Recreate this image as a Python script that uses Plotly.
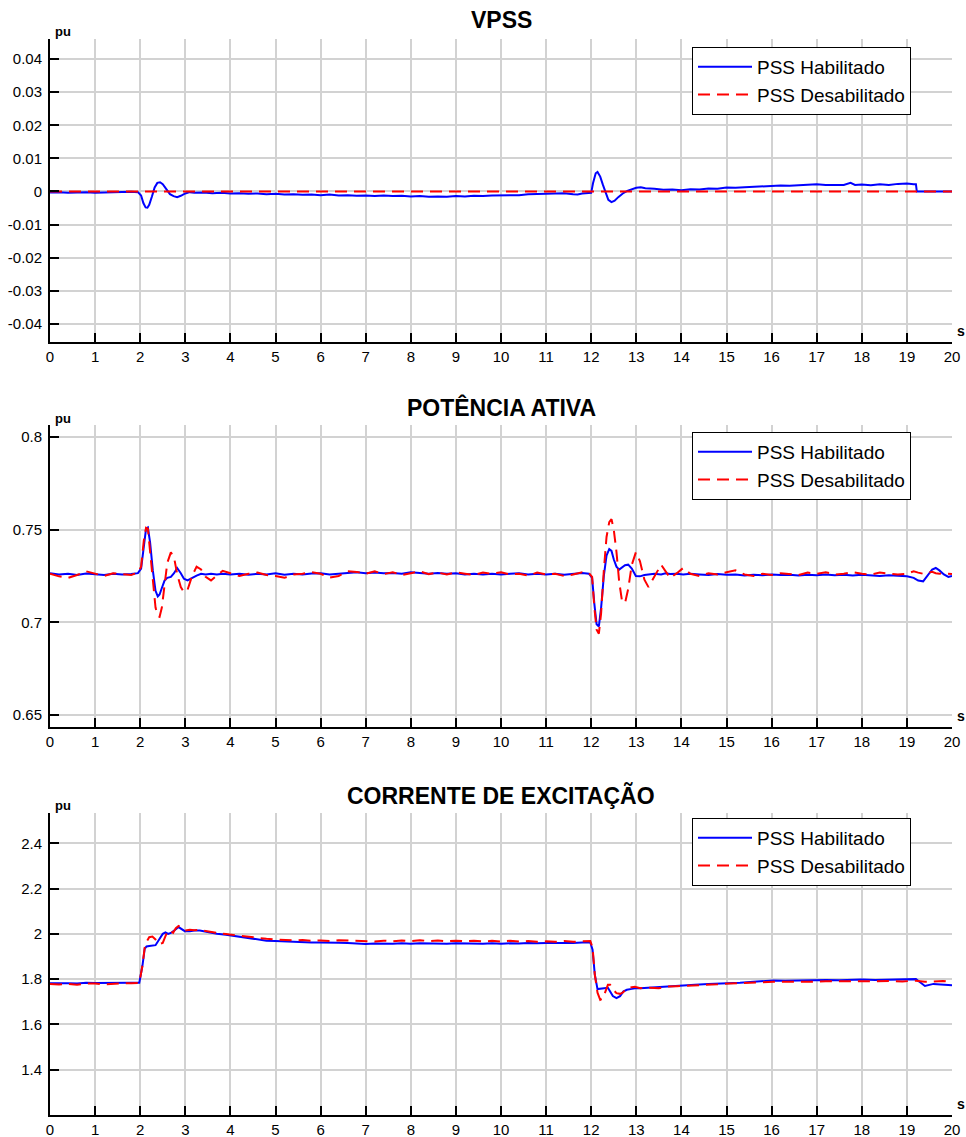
import plotly.graph_objects as go

# ---------------- DATA ----------------
X_TICKS = list(range(0, 21))

# Panel 1 : VPSS
T_VPSS_HAB = [0.0, 0.2, 0.4, 0.6, 0.8, 1.0, 1.2, 1.4, 1.6, 1.8, 1.95, 2.02, 2.07, 2.12, 2.16, 2.2,
              2.26, 2.32, 2.38, 2.44, 2.5, 2.58, 2.66, 2.74, 2.82, 2.9, 3.0, 3.1, 3.2, 3.4, 3.6, 3.8,
              4.0, 4.2, 4.4, 4.6, 4.8, 5.0, 5.2, 5.4, 5.6, 5.8, 6.0, 6.2, 6.4, 6.6, 6.8, 7.0, 7.2,
              7.4, 7.6, 7.8, 8.0, 8.2, 8.4, 8.6, 8.8, 9.0, 9.2, 9.4, 9.6, 9.8, 10.0, 10.2, 10.4,
              10.6, 10.8, 11.0, 11.2, 11.4, 11.6, 11.7, 11.8, 11.9, 12.0, 12.04, 12.1, 12.14, 12.2,
              12.26, 12.32, 12.38, 12.45, 12.52, 12.6, 12.7, 12.8, 12.9, 13.0, 13.1, 13.2, 13.4,
              13.6, 13.8, 14.0, 14.2, 14.4, 14.6, 14.8, 15.0, 15.2, 15.4, 15.6, 15.8, 16.0, 16.2,
              16.4, 16.6, 16.8, 17.0, 17.2, 17.4, 17.6, 17.75, 17.85, 18.0, 18.2, 18.4, 18.6, 18.8,
              19.0, 19.15, 19.2, 19.22, 19.4, 19.7, 20.0]
VPSS_HAB = [-0.0003, -0.0002, -0.0004, -0.0003, -0.0002, -0.0004, -0.0003, -0.0002, -0.0003, -0.0001,
            -0.0002, -0.0012, -0.0035, -0.0048, -0.0049, -0.0040, -0.0015, 0.0012, 0.0026, 0.0028,
            0.0022, 0.0005, -0.0008, -0.0014, -0.0017, -0.0013, -0.0006, -0.0002, -0.0004, -0.0003,
            -0.0005, -0.0004, -0.0006, -0.0005, -0.0007, -0.0006, -0.0008, -0.0007, -0.0009, -0.0008,
            -0.0010, -0.0009, -0.0011, -0.0009, -0.0012, -0.0011, -0.0013, -0.0012, -0.0014, -0.0012,
            -0.0014, -0.0013, -0.0015, -0.0014, -0.0016, -0.0015, -0.0016, -0.0014, -0.0015, -0.0013,
            -0.0014, -0.0012, -0.0012, -0.0010, -0.0011, -0.0008, -0.0007, -0.0005, -0.0004, -0.0005,
            -0.0008, -0.0009, -0.0006, -0.0004, -0.0004, 0.0025, 0.0055, 0.0059, 0.0045, 0.0020,
            -0.0005, -0.0025, -0.0032, -0.0028, -0.0017, -0.0006, 0.0002, 0.0007, 0.0011, 0.0013,
            0.0010, 0.0008, 0.0005, 0.0006, 0.0004, 0.0007, 0.0006, 0.0009, 0.0008, 0.0012, 0.0011,
            0.0013, 0.0014, 0.0017, 0.0016, 0.0018, 0.0017, 0.0019, 0.0020, 0.0022, 0.0020, 0.0021,
            0.0020, 0.0026, 0.0020, 0.0021, 0.0019, 0.0022, 0.0020, 0.0023, 0.0024, 0.0022, 0.0022,
            0.0000, 0.0000, 0.0000, 0.0000]
T_VPSS_DES = [0.0, 20.0]
VPSS_DES = [0.0, 0.0]

# Panel 2 : Potencia ativa
T_P = [0.0, 0.2, 0.4, 0.6, 0.8, 1.0, 1.2, 1.4, 1.6, 1.8, 1.95, 2.02, 2.08, 2.13, 2.17, 2.22, 2.28,
       2.34, 2.39, 2.43, 2.48, 2.54, 2.6, 2.68, 2.75, 2.82, 2.9, 2.97, 3.05, 3.15, 3.25, 3.35, 3.45,
       3.57, 3.7, 3.83, 4.0, 4.2, 4.4, 4.6, 4.8, 5.0, 5.2, 5.4, 5.6, 5.8, 6.0, 6.2, 6.4, 6.6, 6.8,
       7.0, 7.2, 7.4, 7.6, 7.8, 8.0, 8.2, 8.4, 8.6, 8.8, 9.0, 9.2, 9.4, 9.6, 9.8, 10.0, 10.2, 10.4,
       10.6, 10.8, 11.0, 11.2, 11.4, 11.6, 11.8, 11.95, 12.02, 12.07, 12.12, 12.17, 12.22, 12.28,
       12.34, 12.4, 12.45, 12.5, 12.56, 12.62, 12.68, 12.75, 12.82, 12.9, 12.99, 13.08, 13.18,
       13.27, 13.4, 13.55, 13.65, 13.75, 13.9, 14.04, 14.2, 14.4, 14.6, 14.8, 15.0, 15.2, 15.4,
       15.6, 15.8, 16.0, 16.2, 16.4, 16.6, 16.8, 17.0, 17.2, 17.4, 17.6, 17.8, 18.0, 18.2, 18.4,
       18.6, 18.8, 19.0, 19.15, 19.25, 19.36, 19.48, 19.56, 19.64, 19.72, 19.82, 19.92, 20.0]
P_HAB = [0.7265, 0.7258, 0.7262, 0.7255, 0.7263, 0.7258, 0.7255, 0.7262, 0.7258, 0.7260, 0.7265,
         0.7290, 0.7420, 0.7505, 0.7511, 0.7430, 0.7280, 0.7170, 0.7140, 0.7150, 0.7185, 0.7225,
         0.7240, 0.7245, 0.7265, 0.7293, 0.7265, 0.7235, 0.7226, 0.7240, 0.7252, 0.7262, 0.7258,
         0.7262, 0.7258, 0.7262, 0.7258, 0.7262, 0.7256, 0.7262, 0.7258, 0.7264, 0.7257, 0.7262,
         0.7258, 0.7263, 0.7265, 0.7258, 0.7262, 0.7268, 0.7270, 0.7265, 0.7268, 0.7264, 0.7266,
         0.7262, 0.7270, 0.7266, 0.7262, 0.7266, 0.7262, 0.7265, 0.7258, 0.7262, 0.7258, 0.7262,
         0.7258, 0.7262, 0.7265, 0.7258, 0.7262, 0.7258, 0.7262, 0.7256, 0.7260, 0.7266, 0.7262,
         0.7240, 0.7100, 0.6990, 0.6978, 0.7080, 0.7250, 0.7360, 0.7395, 0.7385, 0.7340, 0.7300,
         0.7284, 0.7295, 0.7308, 0.7311, 0.7290, 0.7250, 0.7248, 0.7255, 0.7258, 0.7262, 0.7258,
         0.7264, 0.7260, 0.7262, 0.7258, 0.7262, 0.7258, 0.7255, 0.7260, 0.7256, 0.7258, 0.7252,
         0.7256, 0.7254, 0.7258, 0.7255, 0.7257, 0.7252, 0.7256, 0.7254, 0.7258, 0.7254, 0.7256,
         0.7252, 0.7256, 0.7254, 0.7250, 0.7254, 0.7252, 0.7248, 0.7240, 0.7225, 0.7221, 0.7260,
         0.7285, 0.7293, 0.7280, 0.7258, 0.7245, 0.7250]
P_DES = [0.7262, 0.7248, 0.7240, 0.7255, 0.7275, 0.7262, 0.7250, 0.7265, 0.7258, 0.7255, 0.7268,
         0.7300, 0.7440, 0.7510, 0.7505, 0.7380, 0.7200, 0.7080, 0.7035, 0.7030, 0.7080, 0.7200,
         0.7320, 0.7377, 0.7350, 0.7260, 0.7190, 0.7162, 0.7175, 0.7250, 0.7300, 0.7285, 0.7245,
         0.7226, 0.7250, 0.7278, 0.7265, 0.7250, 0.7262, 0.7268, 0.7255, 0.7250, 0.7240, 0.7258,
         0.7262, 0.7270, 0.7262, 0.7241, 0.7250, 0.7275, 0.7272, 0.7262, 0.7275, 0.7260, 0.7270,
         0.7255, 0.7265, 0.7275, 0.7260, 0.7268, 0.7258, 0.7270, 0.7262, 0.7255, 0.7268, 0.7262,
         0.7270, 0.7258, 0.7262, 0.7252, 0.7268, 0.7258, 0.7262, 0.7250, 0.7258, 0.7270, 0.7265,
         0.7245, 0.7080, 0.6960, 0.6939, 0.7050, 0.7280, 0.7460, 0.7540, 0.7556, 0.7500, 0.7380,
         0.7220, 0.7120, 0.7104, 0.7180, 0.7310, 0.7377, 0.7330, 0.7230, 0.7190, 0.7250, 0.7311,
         0.7275, 0.7239, 0.7265, 0.7293, 0.7262, 0.7250, 0.7265, 0.7258, 0.7270, 0.7280, 0.7258,
         0.7250, 0.7262, 0.7255, 0.7265, 0.7260, 0.7255, 0.7268, 0.7262, 0.7270, 0.7258, 0.7262,
         0.7270, 0.7262, 0.7258, 0.7268, 0.7262, 0.7258, 0.7262, 0.7275, 0.7268, 0.7262, 0.7268,
         0.7272, 0.7265, 0.7262, 0.7265, 0.7262, 0.7260]

# Panel 3 : Corrente de excitacao
T_I = [0.0, 0.2, 0.4, 0.6, 0.8, 1.0, 1.2, 1.4, 1.6, 1.8, 1.98, 2.05, 2.1, 2.14, 2.2, 2.27, 2.34,
       2.42, 2.5, 2.56, 2.62, 2.68, 2.73, 2.79, 2.85, 2.92, 2.99, 3.1, 3.2, 3.32, 3.5, 3.7, 3.9,
       4.06, 4.25, 4.43, 4.6, 4.8, 5.0, 5.2, 5.4, 5.6, 5.8, 6.0, 6.2, 6.4, 6.6, 6.8, 7.0, 7.2, 7.4,
       7.6, 7.8, 8.0, 8.2, 8.4, 8.6, 8.8, 9.0, 9.2, 9.4, 9.6, 9.8, 10.0, 10.2, 10.4, 10.6, 10.8,
       11.0, 11.2, 11.4, 11.6, 11.8, 11.98, 12.03, 12.08, 12.14, 12.2, 12.26, 12.31, 12.37, 12.42,
       12.48, 12.56, 12.64, 12.71, 12.79, 12.9, 12.97, 13.09, 13.3, 13.5, 13.7, 13.9, 14.04, 14.3,
       14.6, 14.8, 15.07, 15.3, 15.6, 15.8, 16.04, 16.3, 16.6, 16.9, 17.2, 17.5, 17.74, 18.0, 18.3,
       18.6, 18.9, 19.2, 19.3, 19.4, 19.59, 19.8, 20.0]
I_HAB = [1.782, 1.783, 1.782, 1.781, 1.784, 1.783, 1.784, 1.782, 1.783, 1.784, 1.784, 1.860, 1.935,
         1.944, 1.946, 1.947, 1.950, 1.975, 2.000, 2.006, 2.000, 2.004, 2.010, 2.020, 2.030, 2.020,
         2.012, 2.012, 2.015, 2.015, 2.008, 2.000, 1.996, 1.991, 1.986, 1.980, 1.976, 1.970, 1.968,
         1.966, 1.963, 1.964, 1.962, 1.962, 1.963, 1.961, 1.960, 1.958, 1.955, 1.957, 1.955, 1.956,
         1.958, 1.956, 1.958, 1.957, 1.958, 1.956, 1.958, 1.957, 1.958, 1.956, 1.958, 1.956, 1.958,
         1.957, 1.960, 1.958, 1.960, 1.959, 1.961, 1.960, 1.962, 1.962, 1.930, 1.820, 1.756, 1.758,
         1.760, 1.760, 1.762, 1.745, 1.725, 1.716, 1.725, 1.745, 1.753, 1.757, 1.760, 1.760, 1.763,
         1.765, 1.767, 1.770, 1.773, 1.775, 1.778, 1.779, 1.782, 1.784, 1.789, 1.791, 1.794, 1.793,
         1.795, 1.794, 1.796, 1.795, 1.797, 1.798, 1.796, 1.798, 1.797, 1.800, 1.785, 1.770, 1.779,
         1.776, 1.773]
I_DES = [1.778, 1.776, 1.779, 1.775, 1.780, 1.781, 1.777, 1.780, 1.781, 1.782, 1.783, 1.860, 1.940,
         1.965, 1.985, 1.988, 1.975, 1.955, 1.960, 1.990, 2.015, 2.012, 2.005, 2.025, 2.035, 2.025,
         2.015, 2.018, 2.016, 2.017, 2.010, 2.004, 1.999, 1.995, 1.990, 1.985, 1.982, 1.978, 1.975,
         1.972, 1.971, 1.973, 1.969, 1.971, 1.968, 1.972, 1.970, 1.968, 1.969, 1.966, 1.970, 1.967,
         1.971, 1.968, 1.972, 1.968, 1.971, 1.967, 1.970, 1.967, 1.970, 1.966, 1.969, 1.966, 1.969,
         1.966, 1.968, 1.965, 1.967, 1.965, 1.968, 1.965, 1.967, 1.968, 1.940, 1.820, 1.740, 1.709,
         1.715, 1.745, 1.775, 1.775, 1.755, 1.738, 1.735, 1.742, 1.760, 1.764, 1.766, 1.760, 1.762,
         1.760, 1.768, 1.769, 1.770, 1.772, 1.776, 1.777, 1.781, 1.782, 1.785, 1.786, 1.789, 1.788,
         1.790, 1.788, 1.791, 1.790, 1.789, 1.791, 1.790, 1.792, 1.790, 1.793, 1.792, 1.788, 1.790,
         1.792, 1.787]

Y1_TICKS = [-0.04, -0.03, -0.02, -0.01, 0, 0.01, 0.02, 0.03, 0.04]
Y1_LABELS = ["-0.04", "-0.03", "-0.02", "-0.01", "0", "0.01", "0.02", "0.03", "0.04"]
Y2_TICKS = [0.65, 0.7, 0.75, 0.8]
Y2_LABELS = ["0.65", "0.7", "0.75", "0.8"]
Y3_TICKS = [1.4, 1.6, 1.8, 2.0, 2.2, 2.4]
Y3_LABELS = ["1.4", "1.6", "1.8", "2", "2.2", "2.4"]

TITLES = ["VPSS", "POTÊNCIA ATIVA", "CORRENTE DE EXCITAÇÃO"]
LEG_HAB = "PSS Habilitado"
LEG_DES = "PSS Desabilitado"

# ---------------- LAYOUT HELPERS ----------------
W, H = 966, 1137
FONT = "Liberation Sans, Arial, sans-serif"
BLUE = "#0000ff"
RED = "#ff0000"
GRID = "#d2d2d2"


def py(p):
    return 1 - p / H


panels = [
    dict(top=39.3, bot=341.7, rng=[-0.0454, 0.0460], tv=Y1_TICKS, tt=Y1_LABELS,
         leg_top=47, title_y=20, pu_y=32, s_y=331),
    dict(top=425.0, bot=727.3, rng=[0.6435, 0.8063], tv=Y2_TICKS, tt=Y2_LABELS,
         leg_top=432, title_y=408, pu_y=418, s_y=716),
    dict(top=812.7, bot=1115.0, rng=[1.2, 2.535], tv=Y3_TICKS, tt=Y3_LABELS,
         leg_top=818, title_y=795, pu_y=805, s_y=1104),
]

series = [
    (T_VPSS_HAB, VPSS_HAB, T_VPSS_DES, VPSS_DES),
    (T_P, P_HAB, T_P, P_DES),
    (T_I, I_HAB, T_I, I_DES),
]

fig = go.Figure()
layout = dict(
    width=W, height=H,
    margin=dict(l=50, r=14, t=0, b=0, pad=0),
    paper_bgcolor="white", plot_bgcolor="white",
    font=dict(family=FONT, color="black"),
    showlegend=True,
    annotations=[],
)

for i, (pn, (tx1, y1, tx2, y2)) in enumerate(zip(panels, series)):
    k = "" if i == 0 else str(i + 1)
    leg = "legend" + k
    fig.add_trace(go.Scatter(x=tx1, y=y1, mode="lines", name=LEG_HAB,
                             line=dict(color=BLUE, width=2), xaxis="x" + k, yaxis="y" + k,
                             legend=leg))
    fig.add_trace(go.Scatter(x=tx2, y=y2, mode="lines", name=LEG_DES,
                             line=dict(color=RED, width=2, dash="12px,7px"),
                             xaxis="x" + k, yaxis="y" + k, legend=leg))
    layout["xaxis" + k] = dict(
        domain=[0, 1], range=[0, 20], anchor="y" + k,
        tickmode="array", tickvals=X_TICKS, ticktext=[str(v) for v in X_TICKS],
        ticks="inside", ticklen=9, tickwidth=2, tickcolor="black",
        showline=True, linecolor="black", linewidth=2, mirror=False,
        showgrid=True, gridcolor=GRID, gridwidth=1.5, zeroline=False,
        tickfont=dict(family=FONT, size=15, color="black"),
    )
    layout["yaxis" + k] = dict(
        domain=[py(pn["bot"]), py(pn["top"])], range=pn["rng"], anchor="x" + k,
        tickmode="array", tickvals=pn["tv"], ticktext=pn["tt"],
        ticks="inside", ticklen=9, tickwidth=2, tickcolor="black",
        showline=True, linecolor="black", linewidth=2, mirror=False,
        showgrid=True, gridcolor=GRID, gridwidth=1.5, zeroline=False,
        ticklabelstandoff=3,
        tickfont=dict(family=FONT, size=15, color="black"),
    )
    layout[leg] = dict(
        x=(692 - 50) / 902, y=py(pn["leg_top"]), xanchor="left", yanchor="top",
        xref="paper", yref="paper",
        bgcolor="white", bordercolor="black", borderwidth=1,
        font=dict(family=FONT, size=19, color="black"),
        itemwidth=54, tracegroupgap=0,
    )
    layout["annotations"] += [
        dict(text="<b>%s</b>" % TITLES[i], x=0.5, y=py(pn["title_y"]), xref="paper", yref="paper",
             xanchor="center", yanchor="middle", showarrow=False,
             font=dict(family=FONT, size=23, color="black")),
        dict(text="<b>pu</b>", x=(53 - 50) / 902, y=py(pn["pu_y"]), xref="paper", yref="paper",
             xanchor="left", yanchor="middle", showarrow=False,
             font=dict(family=FONT, size=13, color="black")),
        dict(text="<b>s</b>", x=(955 - 50) / 902, y=py(pn["s_y"]), xref="paper", yref="paper",
             xanchor="left", yanchor="middle", showarrow=False,
             font=dict(family=FONT, size=14, color="black")),
    ]

fig.update_layout(**layout)
fig.write_html("out.html")
